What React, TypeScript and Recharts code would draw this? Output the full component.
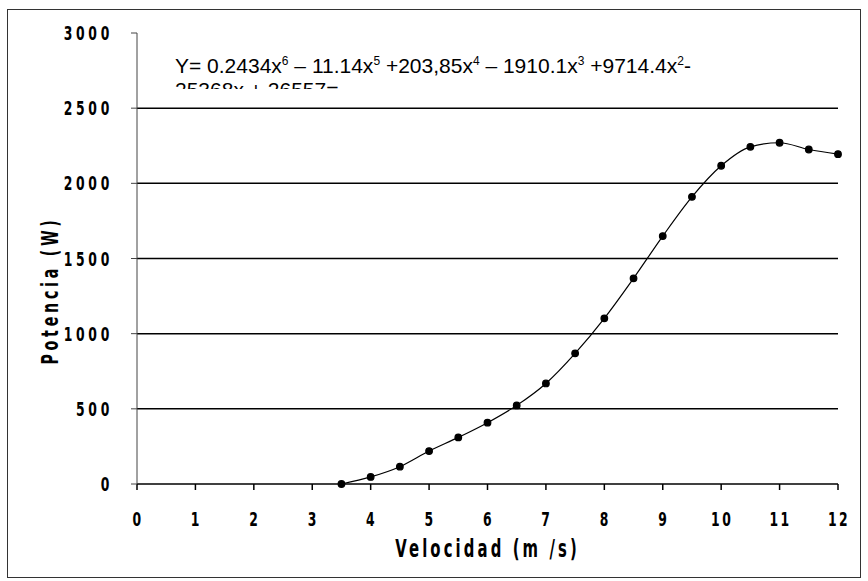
import { Line, LineChart, ReferenceLine, XAxis, YAxis } from "recharts";

const velocidad = [3.5, 4, 4.5, 5, 5.5, 6, 6.5, 7, 7.5, 8, 8.5, 9, 9.5, 10, 10.5, 11, 11.5, 12];
const potencia = [0, 47, 115, 219, 310, 408, 523, 669, 869, 1102, 1368, 1649, 1910, 2117, 2243, 2270, 2225, 2194];

const xTicks = [0, 1, 2, 3, 4, 5, 6, 7, 8, 9, 10, 11, 12];
const yTicks = [0, 500, 1000, 1500, 2000, 2500, 3000];
const gridValues = [500, 1000, 1500, 2000, 2500];

const data = velocidad.map((v, i) => ({ v, p: potencia[i] }));

// heavy narrow look of the old Excel bitmap font
const tickFont = "'DejaVu Sans', sans-serif";

function NarrowText({ x, y, rotate = 0, anchor = "middle", size, spacing, children }: any) {
  return (
    <g transform={`translate(${x} ${y}) rotate(${rotate}) scale(0.62 1)`}>
      <text x={0} y={0} textAnchor={anchor} fontFamily={tickFont} fontWeight="bold"
        fontSize={size} letterSpacing={spacing} fill="#000">
        {children}
      </text>
    </g>
  );
}

function YTick(props: any) {
  const { x, y, payload } = props;
  return <NarrowText x={x} y={y + 7} anchor="end" size={20} spacing={6}>{payload.value}</NarrowText>;
}

function XTick(props: any) {
  const { x, y, payload } = props;
  return <NarrowText x={x + 1} y={y + 34} size={20} spacing={4}>{payload.value}</NarrowText>;
}

export default function App() {
  return (
    <div style={{ position: "absolute", left: 0, top: 0, width: 868, height: 581, background: "#fff" }}>
      <div style={{ position: "absolute", left: 7, top: 9, width: 852, height: 567, border: "1px solid #333" }} />
      <LineChart width={868} height={581} data={data}
        margin={{ top: 33, right: 30, bottom: 37, left: 0 }}>
        {gridValues.map((g) => (
          <ReferenceLine key={g} y={g} stroke="#000" strokeWidth={1.5} />
        ))}
        <XAxis dataKey="v" type="number" domain={[0, 12]} ticks={xTicks} height={60}
          stroke="#000" strokeWidth={1.5} tickSize={6} tick={<XTick />} tickLine={{ stroke: "#000" }}
          label={{
            content: (p: any) => {
              const vb = p.viewBox;
              return (
                <NarrowText x={vb.x + vb.width / 2} y={vb.y + 73} size={24} spacing={5}>
                  Velocidad (m /s)
                </NarrowText>
              );
            },
          }} />
        <YAxis type="number" domain={[0, 3000]} ticks={yTicks} width={137}
          stroke="#444" strokeWidth={1} tickSize={6} tickMargin={18} tick={<YTick />}
          label={{
            content: (p: any) => {
              const vb = p.viewBox;
              return (
                <NarrowText x={vb.x + 58} y={vb.y + vb.height / 2 + 32} rotate={-90} size={23} spacing={6}>
                  Potencia (W)
                </NarrowText>
              );
            },
          }} />
        <Line type="monotone" dataKey="p" stroke="#000" strokeWidth={1.2}
          dot={{ r: 3.3, fill: "#000", stroke: "#000" }} isAnimationActive={false} />
      </LineChart>
      <div style={{
        position: "absolute", left: 175, top: 49, height: 40, overflow: "hidden",
        fontFamily: "'Liberation Sans', Arial, sans-serif", fontSize: 21, lineHeight: "24px",
        color: "#000", whiteSpace: "nowrap",
      }}>
        Y= 0.2434x<sup style={{ fontSize: 12 }}>6</sup> – 11.14x<sup style={{ fontSize: 12 }}>5</sup> +203,85x<sup style={{ fontSize: 12 }}>4</sup> – 1910.1x<sup style={{ fontSize: 12 }}>3</sup> +9714.4x<sup style={{ fontSize: 12 }}>2</sup>-
        <br />
        25368x + 26557=
      </div>
    </div>
  );
}
